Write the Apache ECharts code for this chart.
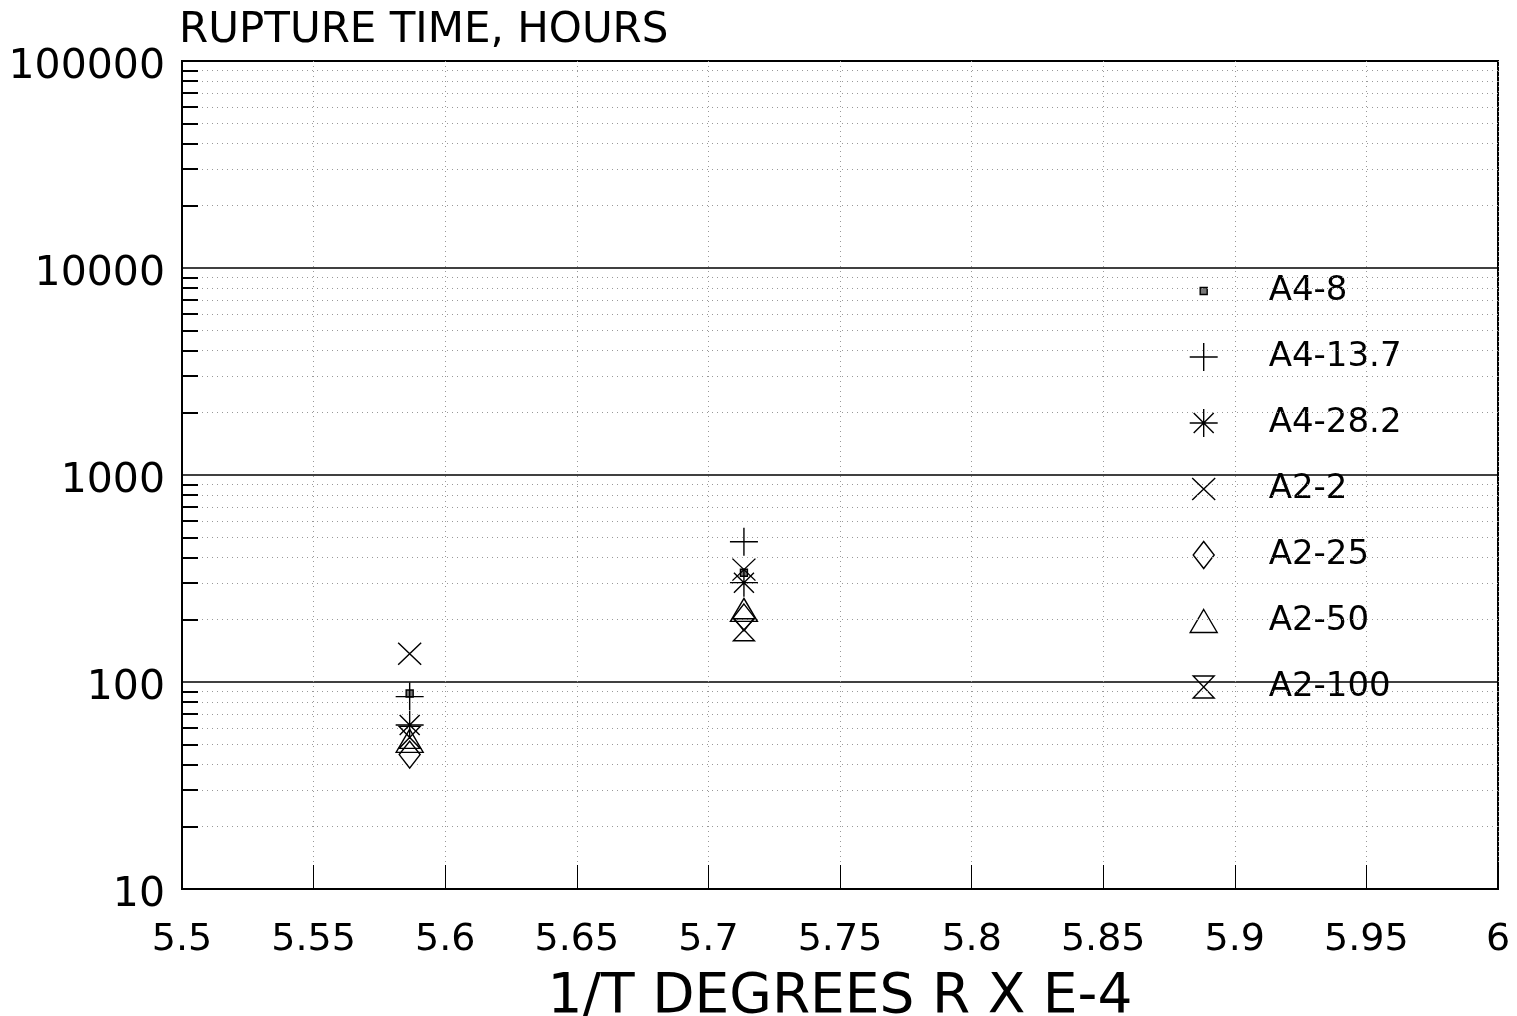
<!DOCTYPE html>
<html>
<head>
<meta charset="utf-8">
<script src="https://cdn.jsdelivr.net/npm/echarts@6/dist/echarts.min.js"></script>
<style>
  html, body { margin: 0; padding: 0; background: #fff; }
  #chart { width: 1517px; height: 1016px; }
</style>
</head>
<body>
<div id="chart"></div>
<script>
// Inverse temperature (1/T, degrees R x E-4) of the two test temperatures
const invTemp = [5.5865, 5.7135];

// Rupture time in hours for each specimen, one value per temperature
const seriesNames = ['A4-8', 'A4-13.7', 'A4-28.2', 'A2-2', 'A2-25', 'A2-50', 'A2-100'];
const a4_8   = [88, 337];
const a4_137 = [85, 476];
const a4_282 = [62, 302];
const a2_2   = [137, 349];
const a2_25  = [44.6, 205];
const a2_50  = [52, 223];
const a2_100 = [54, 179];

// Axis tick labels
const xTickLabels = ['5.5', '5.55', '5.6', '5.65', '5.7', '5.75', '5.8', '5.85', '5.9', '5.95', '6'];
const yTickLabels = ['10', '100', '1000', '10000', '100000'];

// Intermediate log gridlines (2..9 in each decade)
const decades = [10, 100, 1000, 10000];
const minorFactors = [2, 3, 4, 5, 6, 7, 8, 9];

const FONT = 'DejaVu Sans';
const X_MIN = 5.5, X_MAX = 6, X_STEP = 0.05;

// Marker outlines: series marker path + legend icon path (legend boxes are 75x28,
// the leading moves fix the icon box so small glyphs keep their size)
const shapes = {
  'A4-8':    { sym: 'rect', size: 7,
               icon: 'path://M0,0M75,28M11.5,10.5h7v7h-7z' },
  'A4-13.7': { sym: 'path://M0,14H28M14,0V28', size: 28,
               icon: 'path://M0,0M75,28M1,14H29M15,0V28' },
  'A4-28.2': { sym: 'path://M0,14H28M14,0V28M4,4L24,24M24,4L4,24', size: 28,
               icon: 'path://M0,0M75,28M1,14H29M15,0V28M5,4L25,24M25,4L5,24' },
  'A2-2':    { sym: 'path://M0,0L23,22M23,0L0,22', size: [23, 22],
               icon: 'path://M0,0M75,28M3.5,3L26.5,25M26.5,3L3.5,25' },
  'A2-25':   { sym: 'path://M10.5,0L21,13.5L10.5,27L0,13.5Z', size: [21, 27],
               icon: 'path://M0,0M75,28M15,0.5L25.5,14L15,27.5L4.5,14Z' },
  'A2-50':   { sym: 'path://M13.5,0L27,23L0,23Z', size: [27, 23],
               icon: 'path://M0,0M75,28M15,2.5L28.5,25.5L1.5,25.5Z' },
  'A2-100':  { sym: 'path://M0,0H21L0,22H21Z', size: [21, 22],
               icon: 'path://M0,0M75,28M4.5,3H25.5L4.5,25H25.5Z' }
};
const seriesValues = [a4_8, a4_137, a4_282, a2_2, a2_25, a2_50, a2_100];

const minorValues = [];
decades.forEach(d => minorFactors.forEach(f => minorValues.push(d * f)));

const dotted = { color: '#999', width: 1, type: [1, 4] };
const tickLen = 16 / 2632; // short inner tick on the left axis, in x units

const gridMarkLines = [];
minorValues.forEach(v => {
  gridMarkLines.push({ yAxis: v, lineStyle: dotted });
  gridMarkLines.push([
    { coord: [X_MIN, v], lineStyle: { color: '#000', width: 2, type: 'solid' } },
    { coord: [X_MIN + tickLen, v] }
  ]);
});

const series = seriesNames.map((name, i) => {
  const s = shapes[name];
  const isSquare = name === 'A4-8';
  return {
    name: name,
    type: 'scatter',
    symbol: s.sym,
    symbolSize: s.size,
    z: 5,
    itemStyle: {
      color: isSquare ? '#777' : 'transparent',
      borderColor: '#000',
      borderWidth: 1.4,
      opacity: 1
    },
    emphasis: { disabled: true },
    data: invTemp.map((x, k) => [x, seriesValues[i][k]])
  };
});

// Background gridwork attached to an empty helper series
series.unshift({
  name: 'grid',
  type: 'scatter',
  data: [],
  z: 1,
  silent: true,
  markLine: {
    silent: true,
    symbol: ['none', 'none'],
    label: { show: false },
    animation: false,
    emphasis: { disabled: true },
    data: gridMarkLines
  }
});

const chart = echarts.init(document.getElementById('chart'));
chart.setOption({
  animation: false,
  backgroundColor: '#fff',
  textStyle: { fontFamily: FONT, color: '#000' },
  title: {
    text: 'RUPTURE TIME, HOURS',
    left: 174,
    top: 5,
    textStyle: { fontFamily: FONT, fontSize: 42, fontWeight: 'normal', color: '#000' }
  },
  grid: {
    left: 182, right: 19, top: 61, bottom: 127,
    outerBoundsMode: 'none',
    containLabel: false,
    show: true, borderColor: '#000', borderWidth: 2, backgroundColor: 'transparent'
  },
  legend: {
    orient: 'vertical',
    left: 1183,
    top: 269,
    itemWidth: 75,
    itemHeight: 28,
    itemGap: 32,
    selectedMode: false,
    symbolKeepAspect: true,
    itemStyle: { borderColor: '#000', borderWidth: 1.4 },
    textStyle: { fontFamily: FONT, fontSize: 34, color: '#000', lineHeight: 28 },
    data: seriesNames.map(n => ({ name: n, icon: shapes[n].icon }))
  },
  xAxis: {
    type: 'value',
    min: X_MIN,
    max: X_MAX,
    interval: X_STEP,
    name: '1/T DEGREES R X E-4',
    nameLocation: 'middle',
    nameGap: 81,
    nameTextStyle: { fontFamily: FONT, fontSize: 55, color: '#000' },
    axisLine: { show: true, lineStyle: { color: '#000', width: 2 } },
    axisTick: { show: true, inside: true, length: 24, lineStyle: { color: '#000', width: 1 } },
    splitLine: { show: true, lineStyle: dotted },
    axisLabel: {
      fontFamily: FONT, fontSize: 38, color: '#000', margin: 32,
      formatter: v => xTickLabels[Math.round((v - X_MIN) / X_STEP)]
    }
  },
  yAxis: {
    type: 'log',
    logBase: 10,
    min: 10,
    max: 100000,
    axisLine: { show: true, lineStyle: { color: '#000', width: 2 } },
    axisTick: { show: false },
    splitLine: { show: true, lineStyle: { color: '#000', width: 1.5 } },
    axisLabel: {
      fontFamily: FONT, fontSize: 41, color: '#000', margin: 17,
      formatter: v => '{n|' + yTickLabels[Math.round(Math.log10(v)) - 1] + '}',
      rich: {
        n: { fontFamily: FONT, fontSize: 41, color: '#000', padding: [12, 0, 0, 0] }
      }
    }
  },
  series: series
});
</script>
</body>
</html>
